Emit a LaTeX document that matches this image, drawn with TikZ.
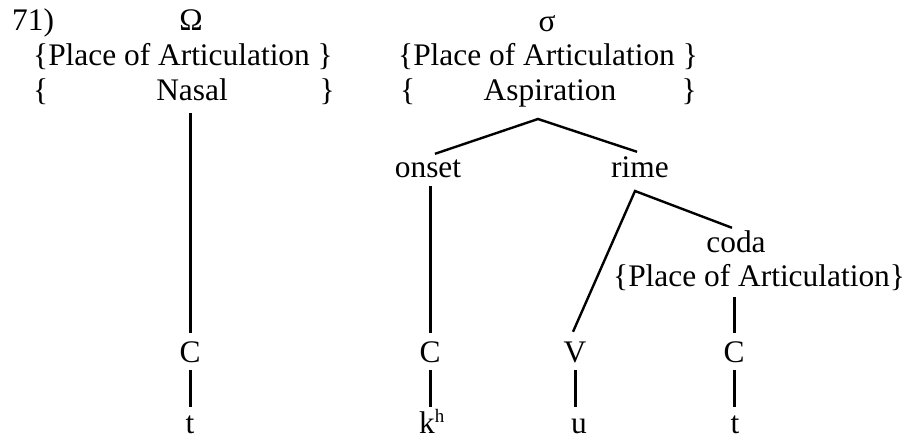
\documentclass[tikz,border=0pt]{standalone}
\usepackage{fontspec}
\setmainfont{Liberation Serif}
\begin{document}
\begin{tikzpicture}[x=1pt,y=1pt,
  lbl/.style={inner sep=0pt, text height=21pt, text depth=0pt, anchor=base,
              font=\fontsize{31.4}{36}\selectfont},
  lblw/.style={lbl, anchor=base west},
  lble/.style={lbl, anchor=base east},
  stem/.style={line width=3pt},
  branch/.style={line width=2.4pt},
]
\useasboundingbox (0,0) rectangle (909,440);

% example number
\node[lblw] (num) at (12,409) {71)};

% ---- left structure: Omega ----
\node[lbl]  (omega) at (191,409) {Ω};
\node[lblw] (poaL)  at (33,374)  {\{Place of Articulation \}};
\node[lblw] (lbrL)  at (33,340)  {\{};
\node[lbl]  (nasal) at (192,340) {Nasal};
\node[lble] (rbrL)  at (335,340) {\}};
\node[lbl]  (lC)    at (190,78)  {C};
\node[lbl]  (lt)    at (190,7)   {t};

\draw[stem] ([yshift=-13pt]lC.north |- nasal.south) -- ([yshift=8pt]lC.north);
\draw[stem] ([yshift=-8pt]lC.south) -- ([yshift=5pt]lC.south |- lt.north);

% ---- right structure: syllable ----
\node[lbl]  (sigma) at (547,408) {σ};
\node[lblw] (poaR)  at (398,374) {\{Place of Articulation \}};
\node[lblw] (lbrR)  at (400,340) {\{};
\node[lbl]  (asp)   at (550,340) {Aspiration};
\node[lble] (rbrR)  at (697,340) {\}};

\coordinate (sig) at (538,321);
\node[lbl] (onset) at (428,263) {onset};
\node[lbl] (rime)  at (640,263) {rime};
\draw[branch] ([xshift=7pt,yshift=2pt]onset.north) -- (sig) -- ([xshift=-3pt,yshift=4pt]rime.north);

\coordinate (rim) at (635,249);
\node[lbl]  (coda)  at (736,188) {coda};
\node[lblw] (poaC)  at (613,154) {\{Place of Articulation\}};

\node[lbl] (oC) at (430,78) {C};
\node[lbl] (V)  at (575,78) {V};
\node[lbl] (cC) at (734,78) {C};

\node[lblw] (kh) at (419,7) {k\raisebox{11pt}{\fontsize{19}{20}\selectfont h}};
\node[lbl]  (u)  at (579,7) {u};
\node[lbl]  (ct) at (735,7) {t};

\draw[stem] ([yshift=-9pt]oC.north |- onset.south) -- ([yshift=8pt]oC.north);
\draw[branch] ([xshift=-2pt,yshift=9pt]V.north) -- (rim) -- ([xshift=-4pt,yshift=3pt]coda.north);
\draw[stem] ([yshift=-11pt]cC.north |- poaC.south) -- ([yshift=8pt]cC.north);

\draw[stem] ([yshift=-8pt]oC.south) -- ([yshift=5pt]oC.south |- kh.north);
\draw[stem] ([yshift=-8pt]V.south)  -- ([yshift=5pt]V.south |- u.north);
\draw[stem] ([yshift=-8pt]cC.south) -- ([yshift=5pt]cC.south |- ct.north);
\end{tikzpicture}
\end{document}
